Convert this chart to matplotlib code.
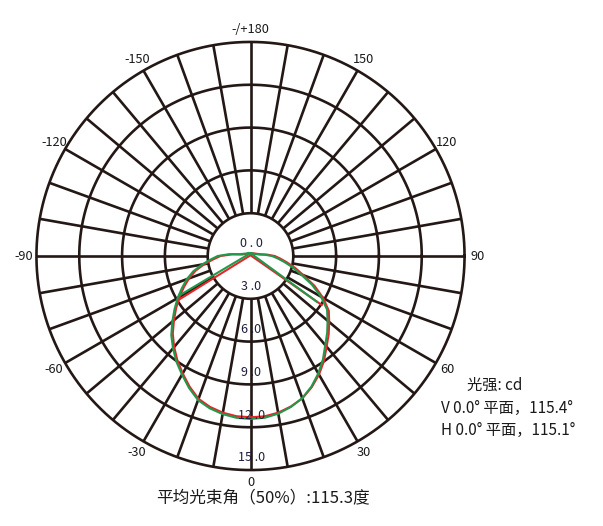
import numpy as np
import matplotlib.pyplot as plt

plt.rcParams['font.family'] = ['Noto Sans CJK SC', 'DejaVu Sans']

# Measured intensity (cd) against gamma angle, 0 = straight down
gamma = [-180, -150, -120, -100, -95,
         -90, -85, -80, -75, -70, -65, -60, -55, -50, -45, -40, -35, -30, -25,
         -20, -15, -10, -5, 0, 5, 10, 15, 20, 25, 30, 35, 40, 45, 50, 55, 60,
         65, 70, 75, 80, 85, 90,
         95, 100, 120, 150, 180]
v_cd = [0.2, 0.22, 0.3, 0.6, 1.3,
        2.1, 2.6, 3.28, 3.98, 4.58, 5.14, 5.75, 6.36, 7.0, 7.7, 8.32, 8.93, 9.5, 10.1,
        10.65, 10.95, 11.15, 11.27, 11.3, 11.28, 11.15, 10.92, 10.62, 10.15, 9.6, 8.98,
        8.3, 7.75, 7.2, 6.7, 5.88, 4.95, 3.95, 3.25, 2.6, 2.1, 1.7,
        1.15, 0.7, 0.35, 0.22, 0.2]
h_cd = [0.2, 0.25, 0.35, 0.75, 1.5,
        2.3, 2.8, 3.45, 4.15, 4.75, 5.3, 5.9, 6.5, 7.15, 7.85, 8.45, 9.05, 9.6, 10.2,
        10.75, 11.05, 11.25, 11.38, 11.42, 11.38, 11.22, 10.95, 10.6, 10.1, 9.5, 8.85,
        8.15, 7.6, 7.05, 6.55, 5.7, 4.75, 3.75, 3.05, 2.4, 1.9, 1.5,
        1.0, 0.6, 0.3, 0.22, 0.2]

# the "V" shaped closing segments of each curve
v_chord_gamma = [-58.6, 180, 55.5]
v_chord_cd = [5.92, 0.05, 6.06]
h_chord_gamma = [-61, 180, 55.4]
h_chord_cd = [5.65, 0.2, 5.64]

ring_values = [0, 3, 6, 9, 12, 15]
ring_labels = ['0 . 0', '3 .0', '6 .0', '9 .0', '12 .0', '15 .0']
angle_ticks = [0, 30, 60, 90, 120, 150, 180, -150, -120, -90, -60, -30]
angle_labels = ['0', '30', '60', '90', '120', '150', '-/+180',
                '-150', '-120', '-90', '-60', '-30']

legend_lines = ['V 0.0° 平面，115.4°', 'H 0.0° 平面，115.1°']
beam_text = '平均光束角（50%）:115.3度'

grid_color = '#231815'
label_color = '#1c1f3a'
S = 14.27          # pixels per cd unit
cx, cy = 250.5, 256  # centre in pixels
W, H = 603, 526


def to_xy(g, r):
    g = np.radians(np.asarray(g, dtype=float))
    r = np.asarray(r, dtype=float)
    return r * np.sin(g), -r * np.cos(g)


fig = plt.figure(figsize=(W / 100, H / 100), dpi=100)
ax = fig.add_axes([0, 0, 1, 1])
ax.set_xlim(-cx / S, (W - cx) / S)
ax.set_ylim(-(H - cy) / S, cy / S)
ax.axis('off')

# rings and spokes
t = np.linspace(0, 2 * np.pi, 400)
for rv in ring_values[1:]:
    ax.plot(rv * np.cos(t), rv * np.sin(t), color=grid_color, lw=1.9, zorder=1)
for a in range(0, 360, 10):
    x, y = to_xy([a, a], [ring_values[1], ring_values[-1]])
    ax.plot(x, y, color=grid_color, lw=1.9, zorder=1, solid_capstyle='butt')

# curves (red under green)
x, y = to_xy(v_chord_gamma, v_chord_cd)
ax.plot(x, y, color='#e5262a', lw=1.5, zorder=3)
x, y = to_xy(gamma, v_cd)
ax.plot(x, y, color='#e5262a', lw=1.5, zorder=3)
x, y = to_xy(h_chord_gamma, h_chord_cd)
ax.plot(x, y, color='#21994b', lw=1.5, zorder=4)
x, y = to_xy(gamma, h_cd)
ax.plot(x, y, color='#21994b', lw=1.5, zorder=4)

# ring value labels, just above each ring on the downward axis
for rv, lab in zip(ring_values, ring_labels):
    ax.text(0.05, -rv + 0.85, lab, ha='center', va='center', fontsize=9,
            color=label_color, zorder=5)

# angle labels
for a, lab in zip(angle_ticks, angle_labels):
    x, y = to_xy(a, 15.9)
    ax.text(x, y, lab, ha='center', va='center', fontsize=9.2, color='#1a1a1a')

fig.text(495 / W, 1 - 385 / H, '光强: cd', ha='center', va='center',
         fontsize=11, color='#1a1a1a')
for i, line in enumerate(legend_lines):
    fig.text(441 / W, 1 - (408 + 22.5 * i) / H, line, ha='left', va='center',
             fontsize=11, color='#1a1a1a')
fig.text(263 / W, 1 - 498 / H, beam_text, ha='center', va='center',
         fontsize=12, color='#1a1a1a')

fig.savefig('out.png', dpi=100, facecolor='white')
